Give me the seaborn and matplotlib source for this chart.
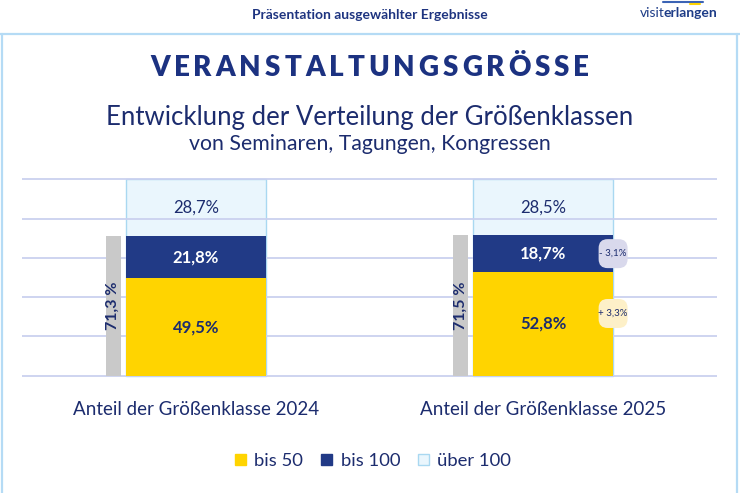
import matplotlib
matplotlib.use("Agg")
import matplotlib.pyplot as plt
from matplotlib.patches import Patch, FancyBboxPatch
from matplotlib.lines import Line2D
import seaborn as sns
import pandas as pd

# Data (percent)
years = ["2024", "2025"]
bis_50 = [49.5, 52.8]
bis_100 = [21.8, 18.7]
ueber_100 = [28.7, 28.5]
legend_labels = ["bis 50", "bis 100", "über 100"]

# Colours
NAVY_TXT = "#1c2c6e"
NAVY = "#213a86"
YELLOW = "#ffd400"
LIGHT = "#eaf6fd"
LIGHT_EDGE = "#a9d8f1"
GREY = "#c9c9c9"
GRID = "#cad1ef"
FRAME = "#b5dbf5"

sns.set_theme(style="white")
plt.rcParams["font.family"] = ["Lato", "DejaVu Sans"]


def pct(v, sep=""):
    return f"{v:.1f}{sep}%".replace(".", ",")


df = pd.DataFrame({"pos": [0, 1], "bis 50": bis_50, "bis 100": bis_100,
                   "über 100": ueber_100})
df["navy_top"] = df["bis 50"] + df["bis 100"]
df["total"] = df["navy_top"] + df["über 100"]
df["grey_pos"] = df["pos"] - 0.238

W, H = 740, 493
fig = plt.figure(figsize=(W / 100, H / 100), dpi=100)
fig.patch.set_facecolor("white")

# plot area: y=0 at 375.7 px, y=100 at 179.3 px, x from -0.5 to 1.5
px_per_unit = (375.7 - 179.3) / 100
bottom_px = 375.7 + px_per_unit
top_px = 179.3 - px_per_unit
ax = fig.add_axes([22 / W, (H - bottom_px) / H, (717 - 22) / W,
                   (bottom_px - top_px) / H])

common = dict(data=df, orient="x", native_scale=True, errorbar=None,
              saturation=1, ax=ax)
sns.barplot(x="pos", y="total", width=0.402, color=LIGHT,
            edgecolor=LIGHT_EDGE, linewidth=1, zorder=1, **common)
sns.barplot(x="pos", y="navy_top", width=0.402, color=NAVY,
            linewidth=0, zorder=2, **common)
sns.barplot(x="pos", y="bis 50", width=0.402, color=YELLOW,
            linewidth=0, zorder=2, **common)
sns.barplot(x="grey_pos", y="navy_top", width=0.043, color=GREY,
            linewidth=0, zorder=2, **common)

ax.set_xlim(-0.5, 1.5)
ax.set_ylim(-1, 101)
ax.set_yticks([0, 20, 40, 60, 80, 100])
ax.yaxis.grid(True, color=GRID, linewidth=1.3)
ax.xaxis.grid(False)
ax.set_axisbelow("line")
ax.set_xticks([0, 1], labels=[f"Anteil der Größenklasse {y}" for y in years])
ax.tick_params(axis="x", length=0, pad=17, labelsize=13.5, labelcolor=NAVY_TXT)
ax.tick_params(axis="y", length=0, labelleft=False)
ax.set_xlabel("")
ax.set_ylabel("")
for s in ax.spines.values():
    s.set_visible(False)
ax.patch.set_alpha(0)

# segment labels
for i, row in df.iterrows():
    p = row["pos"]
    ax.text(p, row["navy_top"] + row["über 100"] / 2, pct(row["über 100"]),
            ha="center", va="center", fontsize=12, color=NAVY_TXT, zorder=3)
    ax.text(p, row["bis 50"] + row["bis 100"] / 2, pct(row["bis 100"]),
            ha="center", va="center", fontsize=12, fontweight="bold",
            color="white", zorder=3)
    ax.text(p, row["bis 50"] / 2, pct(row["bis 50"]),
            ha="center", va="center", fontsize=12, fontweight="bold",
            color=NAVY_TXT, zorder=3)
    ax.text(row["grey_pos"], row["navy_top"] / 2, pct(row["navy_top"], " "),
            ha="center", va="center", rotation=90, fontsize=11.5,
            fontweight="bold", color=NAVY_TXT, zorder=3)

# change badges for 2025 vs 2024
d100 = bis_100[1] - bis_100[0]
d50 = bis_50[1] - bis_50[0]
badges = [
    (bis_50[1] + bis_100[1] / 2, d100, "#d9d9ec"),
    (bis_50[1] * 0.6, d50, "#fdf0c8"),
]
bw = 29 / 348
bh = 29 / px_per_unit
for yv, d, fc in badges:
    cx = 1 + 0.201
    box = FancyBboxPatch((cx - bw / 2, yv - bh / 2), bw, bh,
                         boxstyle=f"round,pad=0,rounding_size={9 / 348}",
                         mutation_aspect=348 / px_per_unit,
                         facecolor=fc, edgecolor="none", zorder=4,
                         clip_on=False)
    ax.add_patch(box)
    sign = "+" if d > 0 else "-"
    ax.text(cx, yv, f"{sign} {pct(abs(d))}", ha="center", va="center",
            fontsize=7, color=NAVY_TXT, zorder=5)

# legend
handles = [Patch(facecolor=YELLOW, edgecolor=YELLOW),
           Patch(facecolor=NAVY, edgecolor=NAVY),
           Patch(facecolor=LIGHT, edgecolor=LIGHT_EDGE)]
fig.legend(handles, legend_labels, loc="center",
           bbox_to_anchor=(373 / W, 1 - 461 / H), ncol=3, frameon=False,
           fontsize=13.3, labelcolor=NAVY_TXT, handlelength=0.62,
           handleheight=0.62, handletextpad=0.45, columnspacing=0.95)

# frame
for xs, ys in [((0, 1), (1 - 34 / H, 1 - 34 / H)),
               ((1.5 / W, 1.5 / W), (0, 1 - 34 / H)),
               ((737 / W, 737 / W), (0, 1 - 34 / H))]:
    fig.add_artist(Line2D(xs, ys, color=FRAME, linewidth=1.6,
                          transform=fig.transFigure))

# header
fig.text(370 / W, 1 - 15 / H, "Präsentation ausgewählter Ergebnisse",
         ha="center", va="center", fontsize=10, fontweight="bold",
         color="#1e3480")
fig.text(665 / W, 1 - 13 / H, "visit", ha="right", va="center",
         fontsize=10, color="#1d3c87")
fig.text(663 / W, 1 - 13 / H, "erlangen", ha="left", va="center",
         fontsize=10, fontweight="bold", color="#1d3c87")
fig.add_artist(Line2D((663 / W, 703 / W), (1 - 2 / H, 1 - 2 / H),
                      color="#3b63b5", linewidth=1.5, transform=fig.transFigure))
fig.add_artist(Line2D((690 / W, 700 / W), (1 - 4 / H, 1 - 4 / H),
                      color=YELLOW, linewidth=1.5, transform=fig.transFigure))

# spaced title
renderer = fig.canvas.get_renderer()
title = "VERANSTALTUNGSGRÖSSE"
tkw = dict(fontsize=20, fontweight="heavy", color="#1c3281", va="center",
           ha="left")
chars = [fig.text(0, 1 - 68 / H, c, **tkw) for c in title]
widths = [t.get_window_extent(renderer).width for t in chars]
x0, x1 = 150, 589
gap = ((x1 - x0) - sum(widths)) / (len(chars) - 1)
x = x0
for t, w in zip(chars, widths):
    t.set_x(x / W)
    x += w + gap

fig.text(370 / W, 1 - 118 / H, "Entwicklung der Verteilung der Größenklassen",
         ha="center", va="center", fontsize=18.5, color=NAVY_TXT)
fig.text(370 / W, 1 - 144 / H, "von Seminaren, Tagungen, Kongressen",
         ha="center", va="center", fontsize=15.3, color=NAVY_TXT)

fig.savefig("out.png", dpi=100)
